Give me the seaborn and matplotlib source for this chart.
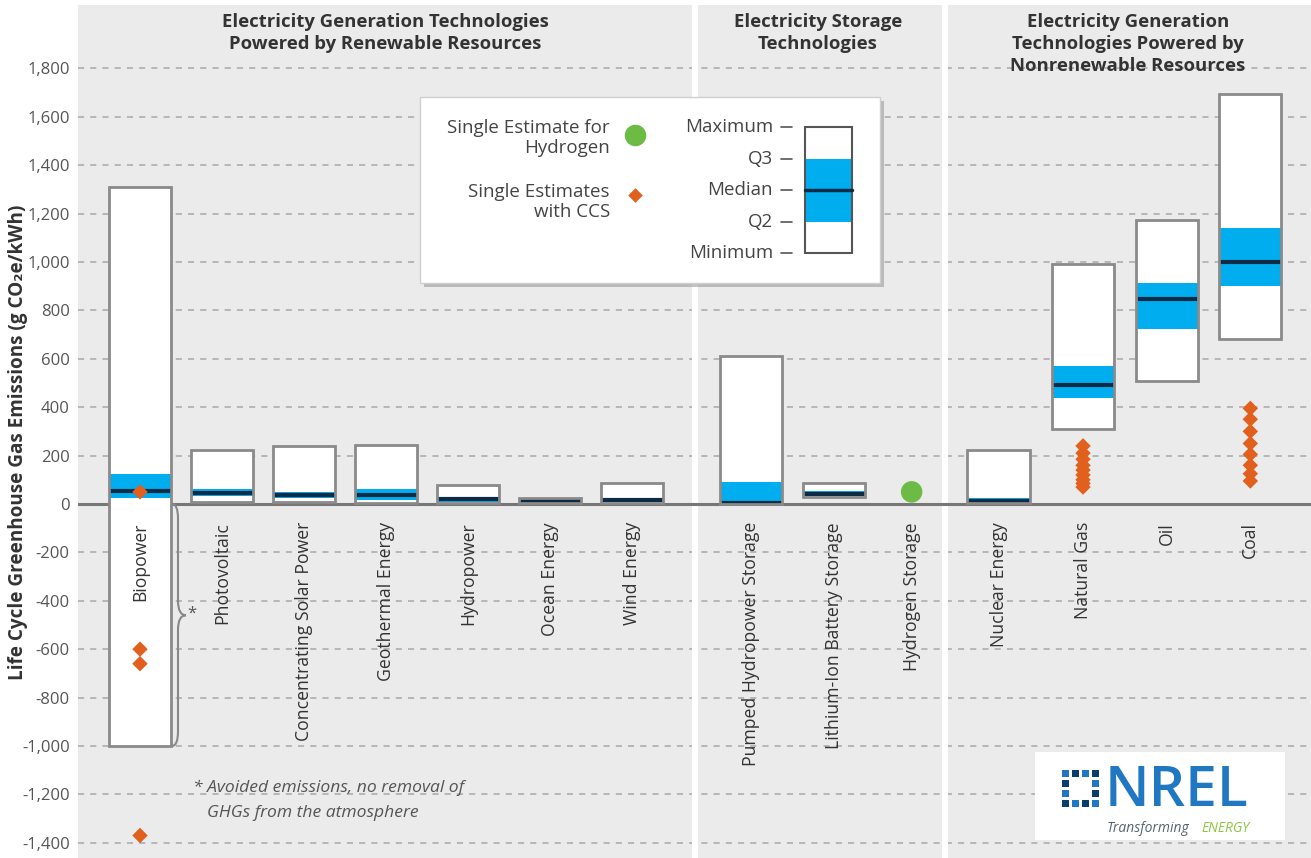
import numpy as np
import matplotlib
matplotlib.use("Agg")
import matplotlib.pyplot as plt
import seaborn as sns
from matplotlib.patches import Rectangle, PathPatch
from matplotlib.path import Path
from matplotlib.ticker import FuncFormatter

# ---------------- data ----------------
categories = ["Biopower", "Photovoltaic", "Concentrating Solar Power", "Geothermal Energy",
              "Hydropower", "Ocean Energy", "Wind Energy", "Pumped Hydropower Storage",
              "Lithium-Ion Battery Storage", "Hydrogen Storage", "Nuclear Energy",
              "Natural Gas", "Oil", "Coal"]
minimum = [-1000, 8, 10, 5, 2, 2, 2, 1, 30, np.nan, 3, 310, 510, 680]
q2 = [25, 32, 25, 18, 10, 4, 12, 4, 38, np.nan, 6, 440, 725, 900]
median = [52, 45, 38, 38, 21, 12, 18, 6, 42, np.nan, 12, 490, 845, 1001]
q3 = [122, 60, 50, 62, 28, 17, 25, 90, 52, np.nan, 24, 572, 915, 1140]
maximum = [1310, 225, 240, 245, 78, 25, 85, 612, 85, np.nan, 222, 990, 1175, 1695]

ccs_category = ["Biopower"] * 4 + ["Natural Gas"] * 9 + ["Coal"] * 8
ccs_value = [50, -600, -660, -1370,
             240, 210, 185, 160, 140, 120, 100, 85, 70,
             395, 350, 300, 250, 205, 160, 125, 95]
h2_category = ["Hydrogen Storage"]
h2_value = [50]

yticks = list(range(-1400, 1801, 200))
section_titles = ["Electricity Generation Technologies\nPowered by Renewable Resources",
                  "Electricity Storage\nTechnologies",
                  "Electricity Generation\nTechnologies Powered by\nNonrenewable Resources"]
legend_box_labels = ["Maximum", "Q3", "Median", "Q2", "Minimum"]

# ---------------- layout ----------------
xpos = [0, 1, 2, 3, 4, 5, 6, 7.45, 8.46, 9.41, 10.47, 11.5, 12.52, 13.54]
pos = dict(zip(categories, xpos))
W = 0.76

sns.set_theme(style="white")
plt.rcParams['font.family'] = ['Open Sans', 'DejaVu Sans']

FW, FH = 1311, 858
fig = plt.figure(figsize=(FW / 100, FH / 100), dpi=100)
ax = fig.add_axes([78 / FW, 0, 1233 / FW, 853 / FH])
ax.set_facecolor('#ebebeb')
ax.set_xlim(-0.756, 14.28)
ax.set_ylim(-1463, 2062)
for s in ax.spines.values():
    s.set_visible(False)

for t in yticks:
    if t != 0:
        ax.axhline(t, color='#a8a8a8', lw=1.1, ls=(0, (4, 4)), zorder=1)
ax.axhline(0, color='#777777', lw=2.2, zorder=1.5)

# panel separators
for a, b in [(6.73, 6.80), (9.78, 9.85)]:
    ax.axvspan(a, b, color='white', zorder=1.2, lw=0)

# range boxes
xb = np.array(xpos, dtype=float)
mn, mx = np.array(minimum, float), np.array(maximum, float)
lo, hi, md = np.array(q2, float), np.array(q3, float), np.array(median, float)
ok = ~np.isnan(mn)
ax.bar(xb[ok], (mx - mn)[ok], bottom=mn[ok], width=W, color='white', lw=0, zorder=2)
ax.bar(xb[ok], (hi - lo)[ok], bottom=lo[ok], width=W, color='#00aeef', lw=0, zorder=3)
ax.hlines(md[ok], xb[ok] - W / 2, xb[ok] + W / 2, color='#0d2b45', lw=3, zorder=4)
ax.bar(xb[ok], (mx - mn)[ok], bottom=mn[ok], width=W, fill=False,
       edgecolor='#8a8a8a', lw=2, zorder=5)

# single estimates
sns.scatterplot(x=[pos[c] for c in ccs_category], y=ccs_value, marker='D', s=62,
                color='#e2601e', edgecolor='none', ax=ax, zorder=7, legend=False)
sns.scatterplot(x=[pos[c] for c in h2_category], y=h2_value, marker='o', s=240,
                color='#6cbb45', edgecolor='none', ax=ax, zorder=7, legend=False)

# category labels
for c in categories:
    ax.text(pos[c], -75, c, rotation=90, ha='center', va='top', fontsize=12.7,
            color='#333333', zorder=8)

ax.set_xticks([])
ax.set_yticks(yticks)
ax.yaxis.set_major_formatter(FuncFormatter(lambda v, p: f"{int(v):,}"))
ax.tick_params(axis='y', length=0, pad=6, labelsize=12, labelcolor='#555555')

# brace next to Biopower
u = lambda px: (px - 140) / 82
x0, x1, xt = u(172), u(178), u(186)
verts = [(x0, 0), (x1, 0), (x1, -60), (x1, -400), (x1, -460), (xt, -460),
         (x1, -460), (x1, -520), (x1, -940), (x1, -1000), (x0, -1000)]
codes = [Path.MOVETO, Path.CURVE3, Path.CURVE3, Path.LINETO, Path.CURVE3, Path.CURVE3,
         Path.CURVE3, Path.CURVE3, Path.LINETO, Path.CURVE3, Path.CURVE3]
ax.add_patch(PathPatch(Path(verts, codes), fill=False, edgecolor='#888888', lw=1.5, zorder=6))
ax.text(xt + 0.02, -455, "*", fontsize=12, color='#555555', ha='left', va='center', zorder=8)

# y label
fig.text(18 / FW, 1 - 442 / FH, "Life Cycle Greenhouse Gas Emissions (g CO\u2082e/kWh)",
         rotation=90, ha='center', va='center', fontsize=13.6, fontweight='bold',
         color='#333333')

# ---------------- overlay decorations (pixel coords) ----------------
ov = fig.add_axes([0, 0, 1, 1], zorder=10)
ov.set_xlim(0, FW)
ov.set_ylim(FH, 0)
ov.axis('off')
ov.patch.set_alpha(0)

title_x = [385, 818, 1128]
for tx, tt in zip(title_x, section_titles):
    ov.text(tx, 13, tt, ha='center', va='top', fontsize=13.3, fontweight='bold',
            color='#333333', linespacing=1.28)

# legend box
ov.add_patch(Rectangle((424, 101), 460, 186, color='#9a9a9a', alpha=0.6, lw=0))
ov.add_patch(Rectangle((420, 97), 460, 186, facecolor='white', edgecolor='#cfcfcf', lw=1))
ov.text(610, 138, "Single Estimate for\nHydrogen", ha='right', va='center', fontsize=13.5,
        color='#444444', linespacing=1.15)
ov.text(610, 202, "Single Estimates\nwith CCS", ha='right', va='center', fontsize=13.5,
        color='#444444', linespacing=1.15)
ov.scatter([635], [135], s=240, color='#6cbb45', lw=0)
ov.scatter([635], [195], s=55, marker='D', color='#e2601e', lw=0)
for lab, ly in zip(legend_box_labels, [127, 159, 190, 222, 253]):
    ov.text(773, ly, lab, ha='right', va='center', fontsize=13.5, color='#444444')
    ov.plot([781, 792], [ly, ly], color='#555555', lw=1.2)
ov.add_patch(Rectangle((805, 127), 47, 126, facecolor='white', edgecolor='none'))
ov.add_patch(Rectangle((805, 159), 47, 63, facecolor='#00aeef', edgecolor='none'))
ov.plot([805, 852], [190, 190], color='#0d2b45', lw=2.5)
ov.add_patch(Rectangle((805, 127), 47, 126, fill=False, edgecolor='#555555', lw=1.5))

# footnote
ov.text(193, 788, "* Avoided emissions, no removal of", ha='left', va='center',
        fontsize=12.6, fontstyle='italic', color='#555555')
ov.text(207, 813, "GHGs from the atmosphere", ha='left', va='center',
        fontsize=12.6, fontstyle='italic', color='#555555')

# NREL logo
ov.add_patch(Rectangle((1035, 752), 250, 88, facecolor='white', edgecolor='none'))
cx, cy = 1080, 788
for i, dx in enumerate([-15, -5, 5, 15]):
    for j, dy in enumerate([-15, -5, 5, 15]):
        if i in (0, 3) or j in (0, 3):
            col = '#1f78c1' if (i + j) % 2 == 0 else '#0b3d6b'
            ov.add_patch(Rectangle((cx + dx - 3.5, cy + dy - 3.5), 7, 7, facecolor=col, lw=0))
ov.text(1105, 806, "NREL", ha='left', va='baseline', fontsize=41, color='#1f78c1',
        fontweight='semibold')
ov.text(1107, 829, "Transforming", ha='left', va='center', fontsize=10,
        fontstyle='italic', color='#55646f')
ov.text(1201, 829, "ENERGY", ha='left', va='center', fontsize=10,
        fontstyle='italic', color='#8dc63f')

fig.savefig("out.png", dpi=100)
